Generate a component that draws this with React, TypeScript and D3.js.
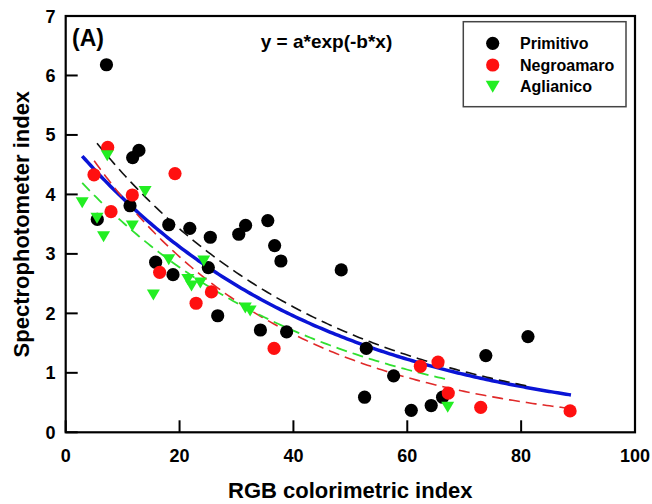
import React from 'react';
import * as d3 from 'd3';

const primitivoX = [7.16, 5.55, 11.76, 12.86, 11.3, 18.1, 21.8, 15.8, 18.85, 25.4, 25.05, 26.7, 30.4, 31.6, 35.5, 36.7, 37.8, 34.2, 38.8, 48.4, 52.8, 52.5, 57.6, 60.7, 64.2, 66.2, 73.8, 81.2];
const primitivoY = [6.18, 3.58, 4.62, 4.74, 3.81, 3.49, 3.43, 2.86, 2.65, 3.28, 2.77, 1.96, 3.33, 3.48, 3.56, 3.14, 2.88, 1.72, 1.69, 2.73, 1.41, 0.59, 0.95, 0.37, 0.45, 0.59, 1.29, 1.61];

const negroamaroX = [4.97, 7.38, 7.96, 11.7, 19.2, 16.5, 22.9, 25.6, 36.6, 62.3, 65.4, 67.2, 72.9, 88.6];
const negroamaroY = [4.33, 4.79, 3.71, 3.99, 4.35, 2.69, 2.17, 2.36, 1.41, 1.11, 1.18, 0.66, 0.42, 0.36];

const aglianicoX = [2.9, 5.5, 6.65, 7.3, 11.7, 13.95, 15.4, 18.1, 21.45, 22.1, 23.65, 24.25, 31.55, 32.4, 67.1];
const aglianicoY = [3.86, 3.6, 3.29, 4.65, 3.47, 4.05, 2.31, 2.9, 2.57, 2.46, 2.51, 2.88, 2.09, 2.04, 0.42];

const fitNames = ['All', 'Primitivo', 'Negroamaro', 'Aglianico'];
const fitA = [4.97, 5.55, 5.28, 4.5];
const fitB = [0.0233, 0.0242, 0.0291, 0.0242];
const fitXMin = [2.9, 5.5, 5.0, 2.9];
const fitXMax = [88.75, 81.2, 88.4, 67.4];
const fitColors = ['#0a14d6', '#111111', '#e02a2a', '#30e030'];
const fitWidths = [3.5, 1.6, 1.6, 1.8];
const fitDash = ['', '11,6', '11,6', '11,6'];

const legendNames = ['Primitivo', 'Negroamaro', 'Aglianico'];
const xTicks = [0, 20, 40, 60, 80, 100];
const yTicks = [0, 1, 2, 3, 4, 5, 6, 7];

const FONT = '"Liberation Sans", Arial, Helvetica, sans-serif';

export default function App() {
  const left = 65.7, right = 635, top = 16, bottom = 432.3;
  const x = d3.scaleLinear().domain([0, 100]).range([left, right]);
  const y = d3.scaleLinear().domain([0, 7]).range([bottom, top]);

  const line = d3.line<[number, number]>().x(d => x(d[0])).y(d => y(d[1]));
  const fits = fitNames.map((n, i) => {
    const xs = d3.range(fitXMin[i], fitXMax[i], 0.5).concat([fitXMax[i]]);
    const pts: [number, number][] = xs.map(v => [v, fitA[i] * Math.exp(-fitB[i] * v)]);
    return { n, d: line(pts) || '', i };
  });

  const tri = (cx: number, cy: number, w = 13, h = 11) =>
    `M${cx - w / 2},${cy - h / 2}L${cx + w / 2},${cy - h / 2}L${cx},${cy + h / 2}Z`;

  const r = 6.6;
  const legX = 492.7;
  const legY = [43.3, 65, 86.7];

  return (
    <svg width={652} height={504} style={{ position: 'absolute', left: 0, top: 0, background: '#fff' }} fontFamily={FONT}>
      <rect x={0} y={0} width={652} height={504} fill="#fff" />
      {fits.map(f => (
        <path key={f.n} d={f.d} fill="none" stroke={fitColors[f.i]} strokeWidth={fitWidths[f.i]}
          strokeDasharray={fitDash[f.i] || undefined} />
      ))}
      {primitivoX.map((v, i) => (
        <circle key={'p' + i} cx={x(v)} cy={y(primitivoY[i])} r={r} fill="#000" />
      ))}
      {negroamaroX.map((v, i) => (
        <circle key={'n' + i} cx={x(v)} cy={y(negroamaroY[i])} r={r} fill="#ff1010" />
      ))}
      {aglianicoX.map((v, i) => (
        <path key={'a' + i} d={tri(x(v), y(aglianicoY[i]))} fill="#22ee22" />
      ))}
      <rect x={left} y={top} width={right - left} height={bottom - top} fill="none" stroke="#000" strokeWidth={2.2} />
      {xTicks.map(t => (
        <g key={'xt' + t}>
          <line x1={x(t)} x2={x(t)} y1={bottom} y2={bottom - 12} stroke="#000" strokeWidth={2} />
          <text x={x(t)} y={461.5} textAnchor="middle" fontSize={18} fontWeight="bold">{t}</text>
        </g>
      ))}
      {yTicks.map(t => (
        <g key={'yt' + t}>
          <line x1={left} x2={left + 12} y1={y(t)} y2={y(t)} stroke="#000" strokeWidth={2} />
          <text x={55.5} y={y(t) + 6.5} textAnchor="end" fontSize={18} fontWeight="bold">{t}</text>
        </g>
      ))}
      <text x={(left + right) / 2} y={498} textAnchor="middle" fontSize={22} fontWeight="bold">RGB colorimetric index</text>
      <text transform={`translate(28.5,${(top + bottom) / 2}) rotate(-90)`} textAnchor="middle" fontSize={22} fontWeight="bold">Spectrophotometer index</text>
      <text x={72} y={46} fontSize={23} fontWeight="bold">(A)</text>
      <text x={326.5} y={48} textAnchor="middle" fontSize={19} fontWeight="bold">y = a*exp(-b*x)</text>
      <rect x={463.3} y={21.7} width={162.7} height={85} fill="#fff" stroke="#444" strokeWidth={1.5} />
      <circle cx={legX} cy={legY[0]} r={r} fill="#000" />
      <circle cx={legX} cy={legY[1]} r={r} fill="#ff1010" />
      <path d={tri(legX, legY[2], 14, 12)} fill="#22ee22" />
      {legendNames.map((n, i) => (
        <text key={n} x={520} y={legY[i] + 5.5} fontSize={16} fontWeight="bold">{n}</text>
      ))}
    </svg>
  );
}
